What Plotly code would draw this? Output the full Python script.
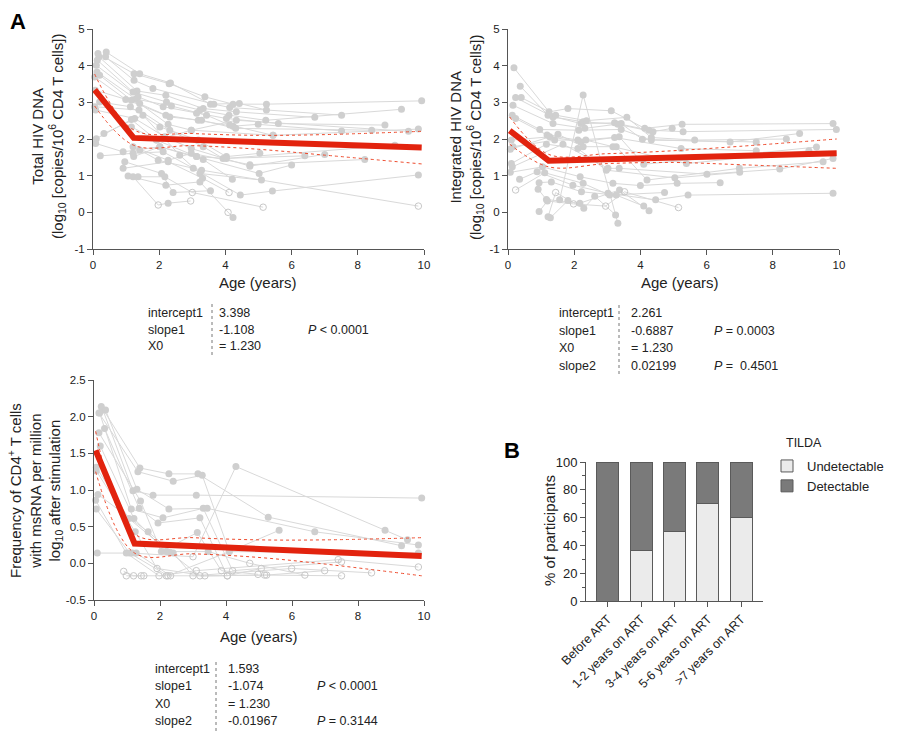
import plotly.graph_objects as go

# ---------------- DATA ----------------
# Panel 1: Total HIV DNA, per participant trajectories (age in years, log10 value)
tot_age = [
    [0.15, 1.24, 2.30, 3.38, 4.23, 5.24, 9.93],
    [0.40, 1.41, 2.34, 3.55, 4.42, 5.24],
    [0.38, 1.24, 1.81, 3.65, 4.13, 7.51],
    [0.18, 1.33, 2.20, 3.33, 4.33, 6.70],
    [0.13, 1.21, 2.22, 3.23, 4.11, 5.22, 9.32],
    [0.10, 1.36, 2.12, 3.13, 4.03, 5.60, 8.82],
    [0.12, 1.29, 2.37, 3.43, 4.13, 5.44, 9.83],
    [0.20, 1.16, 2.20, 3.18, 4.23, 4.99, 7.51],
    [0.05, 0.99, 2.32, 3.28, 4.31, 8.42],
    [0.07, 1.41, 2.27, 2.97, 4.33, 9.53],
    [0.20, 1.13, 2.02, 3.18, 4.03, 5.04],
    [0.05, 1.39, 2.32, 3.33, 3.93, 6.40],
    [0.08, 1.26, 2.17, 2.97, 4.74, 7.00],
    [0.10, 1.16, 1.92, 3.13, 5.02, 6.00],
    [0.08, 0.91, 2.02, 3.33, 4.21],
    [0.22, 1.21, 2.12, 3.03, 4.45, 5.42, 9.83],
    [0.33, 1.51, 2.62, 3.23, 5.09],
    [0.91, 2.27, 3.31, 4.11],
    [0.96, 2.07, 2.42, 3.55],
    [1.06, 2.20, 3.23, 4.08, 4.23],
    [1.21, 1.97, 2.27, 2.95],
    [1.36, 2.17, 3.00, 5.14],
    [1.41, 1.97, 3.28, 9.83],
    [1.21, 2.27, 2.97, 4.74, 8.21],
    [1.23, 2.02, 3.13, 4.03, 9.12],
    [1.16, 1.92, 2.97, 5.44],
]
tot_val = [
    [4.33, 3.78, 3.51, 3.15, 2.95, 2.95, 3.04],
    [4.37, 3.78, 3.53, 2.95, 2.97, 2.79],
    [4.24, 3.60, 3.38, 2.95, 2.86, 2.65],
    [4.24, 3.31, 3.19, 2.83, 2.74, 2.59],
    [4.15, 3.28, 3.01, 2.79, 2.65, 2.51, 2.81],
    [4.01, 3.15, 2.88, 2.70, 2.56, 2.42, 2.38],
    [3.83, 3.09, 2.90, 2.65, 2.38, 2.10, 2.27],
    [3.74, 3.06, 2.65, 2.51, 2.35, 2.40, 2.22],
    [3.69, 3.08, 2.60, 2.51, 2.29, 2.24],
    [3.33, 2.97, 2.40, 2.24, 2.51, 2.21],
    [3.01, 2.88, 2.33, 1.97, 1.52, 1.61],
    [2.88, 2.79, 2.24, 1.79, 1.47, 1.54],
    [2.79, 2.56, 2.06, 1.74, 1.26, 1.58],
    [2.01, 2.53, 1.97, 1.52, 1.06, 1.29],
    [1.88, 1.65, 1.79, 1.44, 0.90],
    [1.54, 1.61, 1.65, 1.20, 0.47, 0.58, 1.02],
    [2.15, 2.65, 1.56, 1.06, 0.88],
    [1.20, 1.38, 0.93, 0.54],
    [1.38, 1.06, 0.54, 0.59],
    [0.99, 0.74, 0.83, 0.00, -0.14],
    [0.97, 0.20, 0.25, 0.31],
    [0.97, 0.97, 0.54, 0.14],
    [1.70, 1.42, 1.15, 0.17],
    [1.79, 1.42, 1.61, 1.30, 1.44],
    [1.52, 1.79, 1.52, 1.47, 1.83],
    [2.33, 1.97, 2.24, 2.10],
]
# 1 = detectable (filled dot), 0 = below detection (open circle)
tot_det = [
    [1, 1, 1, 1, 1, 1, 1], [1, 1, 1, 1, 1, 1], [1, 1, 1, 1, 1, 1], [1, 1, 1, 1, 1, 1],
    [1, 1, 1, 1, 1, 1, 1], [1, 1, 1, 1, 1, 1, 1], [1, 1, 1, 1, 1, 1, 1], [1, 1, 1, 1, 1, 1, 1],
    [1, 1, 1, 1, 1, 1], [1, 1, 1, 1, 1, 1], [1, 1, 1, 1, 1, 1], [1, 1, 1, 1, 1, 1],
    [1, 1, 1, 1, 1, 1], [1, 1, 1, 1, 1, 1], [1, 1, 1, 1, 1], [1, 1, 1, 1, 1, 1, 1],
    [1, 1, 1, 1, 1], [1, 1, 1, 0], [1, 1, 1, 1], [1, 1, 1, 0, 1], [1, 0, 1, 0],
    [1, 1, 0, 0], [1, 1, 1, 0], [1, 1, 1, 1, 1], [1, 1, 1, 1, 1], [1, 1, 1, 1],
]
tot_fit_x = [0.05, 1.23, 9.93]
tot_fit_y = [3.34, 2.03, 1.77]
tot_ci_x = [0.05, 1.23, 3.0, 5.0, 7.0, 9.93]
tot_ci_hi = [3.77, 2.25, 2.15, 2.10, 2.12, 2.21]
tot_ci_lo = [2.90, 1.83, 1.82, 1.72, 1.56, 1.32]

# Panel 2: Integrated HIV DNA
int_age = [
    [0.18, 1.24, 1.81, 3.12, 4.13, 5.26, 9.82],
    [0.37, 1.21, 2.20, 3.22, 4.26, 5.29, 9.92],
    [0.23, 1.36, 2.27, 3.32, 4.38, 4.96],
    [0.40, 1.44, 2.37, 3.59, 4.33, 5.64, 8.41],
    [0.15, 1.36, 2.32, 3.42, 4.06, 6.71, 8.81],
    [0.13, 0.96, 2.14, 3.42, 4.33, 7.50],
    [0.23, 1.18, 2.11, 3.22, 5.23, 7.50],
    [0.10, 1.26, 2.20, 3.36, 4.10, 9.32],
    [0.15, 1.41, 2.35, 3.17, 5.39, 9.09],
    [0.07, 1.51, 2.27, 3.27, 4.20, 6.99, 9.52],
    [0.10, 1.16, 2.11, 2.97, 5.04, 7.00],
    [0.13, 1.66, 3.02, 3.36, 6.01, 8.21, 9.82],
    [0.07, 1.04, 2.18, 3.17, 4.00, 5.11, 6.41],
    [0.35, 0.88, 1.96, 3.02, 4.46, 5.44, 9.82],
    [0.23, 1.11, 2.27, 3.07, 4.73],
    [0.94, 1.31, 2.22, 3.27, 4.10],
    [0.91, 1.16, 2.17, 3.37, 4.26],
    [0.94, 1.19, 1.98, 2.95, 3.52, 5.15],
    [1.21, 1.44, 2.29, 2.62, 3.25],
    [1.56, 2.27, 3.32],
    [1.28, 1.81],
]
int_val = [
    [3.94, 2.74, 2.83, 2.77, 2.29, 2.40, 2.42],
    [3.44, 2.65, 2.42, 2.44, 2.24, 2.20, 2.26],
    [3.13, 2.60, 2.47, 2.40, 2.20, 2.29],
    [3.13, 2.65, 2.50, 2.59, 2.04, 1.97, 2.00],
    [2.92, 2.42, 2.29, 2.42, 1.99, 1.92, 2.15],
    [2.65, 2.26, 2.24, 2.26, 1.97, 1.92],
    [2.56, 2.11, 1.97, 2.04, 1.74, 1.68],
    [1.97, 2.06, 1.92, 2.06, 1.31, 1.78],
    [1.79, 1.97, 1.97, 1.79, 1.33, 1.68],
    [1.72, 2.13, 1.79, 1.79, 0.88, 1.20, 1.38],
    [1.33, 1.86, 1.74, 1.15, 0.94, 1.09],
    [1.24, 1.86, 1.20, 1.20, 1.04, 1.18, 1.47],
    [1.09, 1.24, 0.97, 0.79, 0.73, 0.79, 0.81],
    [0.90, 1.11, 0.74, 0.52, 0.34, 0.47, 0.52],
    [0.61, 1.08, 0.79, 0.47, 0.54],
    [0.81, 0.83, 0.56, 0.47, 0.17],
    [0.63, 0.35, 0.25, 0.61, 0.04],
    [0.02, 0.31, 0.23, 0.17, 0.56, 0.13],
    [-0.12, 0.54, 0.11, 0.44, -0.07],
    [0.34, 3.20, -0.30],
    [-0.15, 0.32],
]
int_det = [
    [1, 1, 1, 1, 1, 1, 1], [1, 1, 1, 1, 1, 1, 1], [1, 1, 1, 1, 1, 1], [1, 1, 1, 1, 1, 1, 1],
    [1, 1, 1, 1, 1, 1, 1], [1, 1, 1, 1, 1, 1], [1, 1, 1, 1, 1, 1], [1, 1, 1, 1, 1, 1],
    [1, 1, 1, 1, 1, 1], [1, 1, 1, 1, 1, 1, 1], [1, 1, 1, 1, 1, 1], [1, 1, 1, 1, 1, 1, 1],
    [1, 1, 1, 1, 1, 1, 1], [1, 1, 1, 1, 1, 1, 1], [0, 1, 1, 1, 1], [1, 1, 1, 1, 1],
    [1, 1, 1, 1, 1], [1, 1, 0, 0, 0, 0], [1, 0, 1, 1, 1], [1, 1, 1], [1, 1],
]
int_fit_x = [0.05, 1.23, 9.93]
int_fit_y = [2.23, 1.41, 1.61]
int_ci_x = [0.05, 1.23, 3.0, 5.0, 7.0, 9.93]
int_ci_hi = [2.60, 1.58, 1.60, 1.68, 1.80, 2.00]
int_ci_lo = [1.86, 1.24, 1.33, 1.36, 1.30, 1.20]

# Panel 3: frequency of CD4+ T cells with msRNA (TILDA)
fr_age = [
    [0.22, 1.39, 2.27, 3.15, 5.28, 9.32],
    [0.15, 1.33, 2.40, 3.28, 4.10, 5.61],
    [0.27, 1.18, 1.79, 3.10, 9.93],
    [0.35, 1.30, 2.27, 3.43, 6.69, 9.83],
    [0.17, 1.13, 2.09, 3.31, 4.20, 7.50],
    [0.32, 1.37, 1.94, 3.21, 4.04, 5.07],
    [0.15, 1.41, 2.04, 3.13, 3.86, 4.97],
    [0.19, 1.21, 2.19, 3.46, 4.72, 6.39],
    [0.07, 1.06, 2.30, 3.21, 5.17, 7.50],
    [0.07, 1.25, 1.91, 3.36, 5.23, 6.99],
    [0.12, 1.64, 2.40, 3.00, 5.99, 8.41],
    [0.05, 0.98, 1.97, 3.10, 7.40, 9.83],
    [0.07, 1.08, 2.24, 4.10, 9.83],
    [0.10, 1.28, 2.32, 4.04],
    [0.98, 1.51, 2.19],
    [0.90, 1.20, 1.43],
    [1.16, 3.00, 4.30, 8.82, 9.50],
]
fr_val = [
    [2.14, 1.30, 1.22, 1.22, 0.63, 0.24],
    [2.05, 1.25, 1.12, 1.20, 0.16, 0.45],
    [2.09, 0.99, 0.93, 0.93, 0.89],
    [2.09, 1.01, 0.74, 0.75, 0.43, 0.25],
    [2.05, 0.74, 0.62, 0.75, -0.10, 0.02],
    [1.84, 0.75, 0.55, 0.62, -0.17, -0.07],
    [1.78, 0.85, 0.16, 0.42, -0.10, -0.15],
    [1.60, 0.61, 0.16, 0.16, 0.00, -0.16],
    [1.31, 0.61, 0.15, -0.17, -0.16, -0.17],
    [1.26, 0.43, -0.07, -0.17, -0.16, -0.10],
    [0.94, 0.43, 0.14, -0.17, -0.07, -0.13],
    [0.86, 0.14, -0.17, -0.10, 0.05, -0.05],
    [0.74, 0.14, -0.17, 0.16, 0.14],
    [0.14, 0.14, -0.17, -0.17],
    [-0.17, -0.17, -0.17],
    [-0.11, -0.17, -0.17],
    [0.14, 0.09, 1.32, 0.45, 0.32],
]
fr_det = [
    [1, 1, 1, 1, 1, 1], [1, 1, 1, 1, 1, 1], [1, 1, 1, 1, 1], [1, 1, 1, 1, 1, 1],
    [1, 1, 1, 1, 0, 0], [1, 1, 1, 1, 0, 0], [1, 1, 1, 1, 0, 0], [1, 1, 1, 1, 0, 0],
    [1, 1, 1, 0, 0, 0], [1, 1, 0, 0, 0, 0], [1, 1, 1, 0, 0, 0], [1, 1, 0, 0, 0, 0],
    [1, 1, 0, 1, 1], [1, 1, 0, 0], [0, 0, 0], [0, 0, 0], [1, 0, 1, 1, 1],
]
fr_fit_x = [0.05, 1.23, 9.93]
fr_fit_y = [1.54, 0.27, 0.10]
fr_ci_x = [0.05, 1.23, 3.0, 5.0, 7.0, 9.93]
fr_ci_hi = [1.80, 0.40, 0.35, 0.32, 0.32, 0.35]
fr_ci_lo = [1.25, 0.14, 0.13, 0.08, -0.01, -0.17]

x_ticks = [0, 2, 4, 6, 8, 10]

# Panel B: TILDA detectability per time category (%)
bar_cats = ["Before ART", "1-2 years on ART", "3-4 years on ART", "5-6 years on ART", "&gt;7 years on ART"]
pct_undetectable = [0, 36, 50, 70, 60]
pct_detectable = [100, 64, 50, 30, 40]

# Fit statistics tables
tot_stats_lab = ["intercept1", "slope1", "X0"]
tot_stats_val = ["3.398", "-1.108", "= 1.230"]
tot_stats_p = ["", "<i>P</i> &lt; 0.0001", ""]
int_stats_lab = ["intercept1", "slope1", "X0", "slope2"]
int_stats_val = ["2.261", "-0.6887", "= 1.230", "0.02199"]
int_stats_p = ["", "<i>P</i> = 0.0003", "", "<i>P</i> =  0.4501"]
fr_stats_lab = ["intercept1", "slope1", "X0", "slope2"]
fr_stats_val = ["1.593", "-1.074", "= 1.230", "-0.01967"]
fr_stats_p = ["", "<i>P</i> &lt; 0.0001", "", "<i>P</i> = 0.3144"]

# ---------------- STYLE ----------------
W, H = 900, 742
FONT = "Liberation Sans, Arial, sans-serif"
TXT = "#222222"
AX = "#555555"
GLINE = "#d9d9d9"
GDOT = "#cfcfcf"
RED = "#e2230e"
RED_CI = "#ee4a2c"


def px(x):
    return x / W


def py(y):
    return 1 - y / H


fig = go.Figure()


def add_panel(ages, vals, dets, fx, fy, cx, chi, clo, xa, ya):
    for a, v in zip(ages, vals):
        fig.add_trace(go.Scatter(x=a, y=v, mode="lines", line=dict(color=GLINE, width=1),
                                 xaxis=xa, yaxis=ya, showlegend=False, hoverinfo="skip"))
    fxs, fys, oxs, oys = [], [], [], []
    for a, v, d in zip(ages, vals, dets):
        for ai, vi, di in zip(a, v, d):
            if di:
                fxs.append(ai); fys.append(vi)
            else:
                oxs.append(ai); oys.append(vi)
    fig.add_trace(go.Scatter(x=fxs, y=fys, mode="markers", marker=dict(color=GDOT, size=7),
                             xaxis=xa, yaxis=ya, showlegend=False, cliponaxis=False))
    fig.add_trace(go.Scatter(x=oxs, y=oys, mode="markers",
                             marker=dict(symbol="circle-open", color="#c8c8c8", size=6.5, line=dict(width=1)),
                             xaxis=xa, yaxis=ya, showlegend=False, cliponaxis=False))
    for c in (chi, clo):
        fig.add_trace(go.Scatter(x=cx, y=c, mode="lines", line=dict(color=RED_CI, width=1, dash="dot", shape="spline"),
                                 xaxis=xa, yaxis=ya, showlegend=False))
    fig.add_trace(go.Scatter(x=fx, y=fy, mode="lines", line=dict(color=RED, width=6),
                             xaxis=xa, yaxis=ya, showlegend=False))


add_panel(tot_age, tot_val, tot_det, tot_fit_x, tot_fit_y, tot_ci_x, tot_ci_hi, tot_ci_lo, "x", "y")
add_panel(int_age, int_val, int_det, int_fit_x, int_fit_y, int_ci_x, int_ci_hi, int_ci_lo, "x2", "y2")
add_panel(fr_age, fr_val, fr_det, fr_fit_x, fr_fit_y, fr_ci_x, fr_ci_hi, fr_ci_lo, "x3", "y3")

fig.add_trace(go.Bar(x=bar_cats, y=pct_undetectable, name="Undetectable",
                     marker=dict(color="#ebebeb", line=dict(color="#5a5a5a", width=1)),
                     width=0.66, xaxis="x4", yaxis="y4"))
fig.add_trace(go.Bar(x=bar_cats, y=pct_detectable, name="Detectable",
                     marker=dict(color="#7a7a7a", line=dict(color="#5a5a5a", width=1)),
                     width=0.66, xaxis="x4", yaxis="y4"))

axis_common = dict(showline=True, linecolor=AX, linewidth=1, ticks="outside", ticklen=5,
                   tickcolor=AX, tickwidth=1, showgrid=False, zeroline=False, automargin=False,
                   tickfont=dict(family=FONT, size=11.5, color=TXT))


def xax(d0, d1, anchor):
    return dict(axis_common, domain=[px(d0), px(d1)], range=[0, 10], tickvals=x_ticks, anchor=anchor)


def yax(d0, d1, rng, tv, fmt, anchor):
    return dict(axis_common, domain=[py(d1), py(d0)], range=rng, tickvals=tv,
                ticktext=[fmt.format(t) for t in tv], anchor=anchor)


fig.update_layout(
    template="none",
    width=W, height=H, margin=dict(l=0, r=0, t=0, b=0, autoexpand=False),
    paper_bgcolor="white", plot_bgcolor="white",
    font=dict(family=FONT, color=TXT),
    barmode="stack", bargap=0.34,
    xaxis=xax(93, 424, "y"),
    yaxis=yax(29, 249, [-1, 5], [-1, 0, 1, 2, 3, 4, 5], "{:g}", "x"),
    xaxis2=xax(508, 839, "y2"),
    yaxis2=yax(29, 249, [-1, 5], [-1, 0, 1, 2, 3, 4, 5], "{:g}", "x2"),
    xaxis3=xax(94, 424, "y3"),
    yaxis3=yax(380, 600, [-0.5, 2.5], [-0.5, 0, 0.5, 1.0, 1.5, 2.0, 2.5], "{:.1f}", "x3"),
    xaxis4=dict(axis_common, domain=[px(586), px(763)], anchor="y4", type="category",
                range=[-0.65, 4.65], tickangle=-45,
                tickfont=dict(family=FONT, size=12.5, color=TXT)),
    yaxis4=dict(axis_common, domain=[py(601), py(462)], anchor="x4", range=[0, 100],
                tickvals=[0, 20, 40, 60, 80, 100],
                tickfont=dict(family=FONT, size=13, color=TXT),
                minor=dict(tickvals=[10, 30, 50, 70, 90], ticklen=3, ticks="outside", tickcolor=AX)),
    legend=dict(x=px(767), y=py(451), xanchor="left", yanchor="top", traceorder="normal",
                font=dict(family=FONT, size=13, color=TXT), bgcolor="rgba(0,0,0,0)",
                tracegroupgap=0, itemwidth=30),
)

ann = []


def text(x, y, t, size=12, xanchor="left", angle=0, bold=False, yanchor="middle"):
    if bold:
        t = "<b>" + t + "</b>"
    ann.append(dict(x=px(x), y=py(y), xref="paper", yref="paper", text=t, showarrow=False,
                    xanchor=xanchor, yanchor=yanchor, textangle=angle,
                    font=dict(family=FONT, size=size, color=TXT if not bold else "#000")))


# Panel letters
text(18, 22, "A", size=22, xanchor="center", bold=True)
text(512, 450, "B", size=22, xanchor="center", bold=True)

# Legend title
text(784, 443, "TILDA", size=12.5)

# Axis titles
text(258, 283, "Age (years)", size=15, xanchor="center")
text(680, 283, "Age (years)", size=15, xanchor="center")
text(259, 636, "Age (years)", size=15, xanchor="center")
text(49, 137, "Total HIV DNA<br>(log<sub>10</sub> [copies/10<sup>6</sup> CD4 T cells])", size=15,
     xanchor="center", angle=-90)
text(467, 137, "Integrated HIV DNA<br>(log<sub>10</sub> [copies/10<sup>6</sup> CD4 T cells])", size=15,
     xanchor="center", angle=-90)
text(35, 491, "Frequency of CD4<sup>+</sup> T cells<br>with msRNA per million<br>log<sub>10</sub> after stimulation",
     size=15, xanchor="center", angle=-90)
text(549, 531, "% of participants", size=15, xanchor="center", angle=-90)


def table(lab, val, pv, x_lab, x_val, x_p, y0, dy, x_line, yl0, yl1, shapes):
    for i in range(len(lab)):
        y = y0 + i * dy
        text(x_lab, y, lab[i], size=12.5)
        text(x_val, y, val[i], size=12.5)
        if pv[i]:
            text(x_p, y, pv[i], size=12.5)
    shapes.append(dict(type="line", xref="paper", yref="paper", x0=px(x_line), x1=px(x_line),
                       y0=py(yl0), y1=py(yl1), line=dict(color="#777", width=1, dash="dot")))


shapes = []
table(tot_stats_lab, tot_stats_val, tot_stats_p, 146, 217, 306, 313, 16.7, 212, 304, 358, shapes)
table(int_stats_lab, int_stats_val, int_stats_p, 557, 629, 712, 313, 17.6, 619, 305, 375, shapes)
table(fr_stats_lab, fr_stats_val, fr_stats_p, 153, 226, 315, 669, 17.3, 216, 662, 732, shapes)

fig.update_layout(annotations=ann, shapes=shapes)

fig.write_html("out.html")
